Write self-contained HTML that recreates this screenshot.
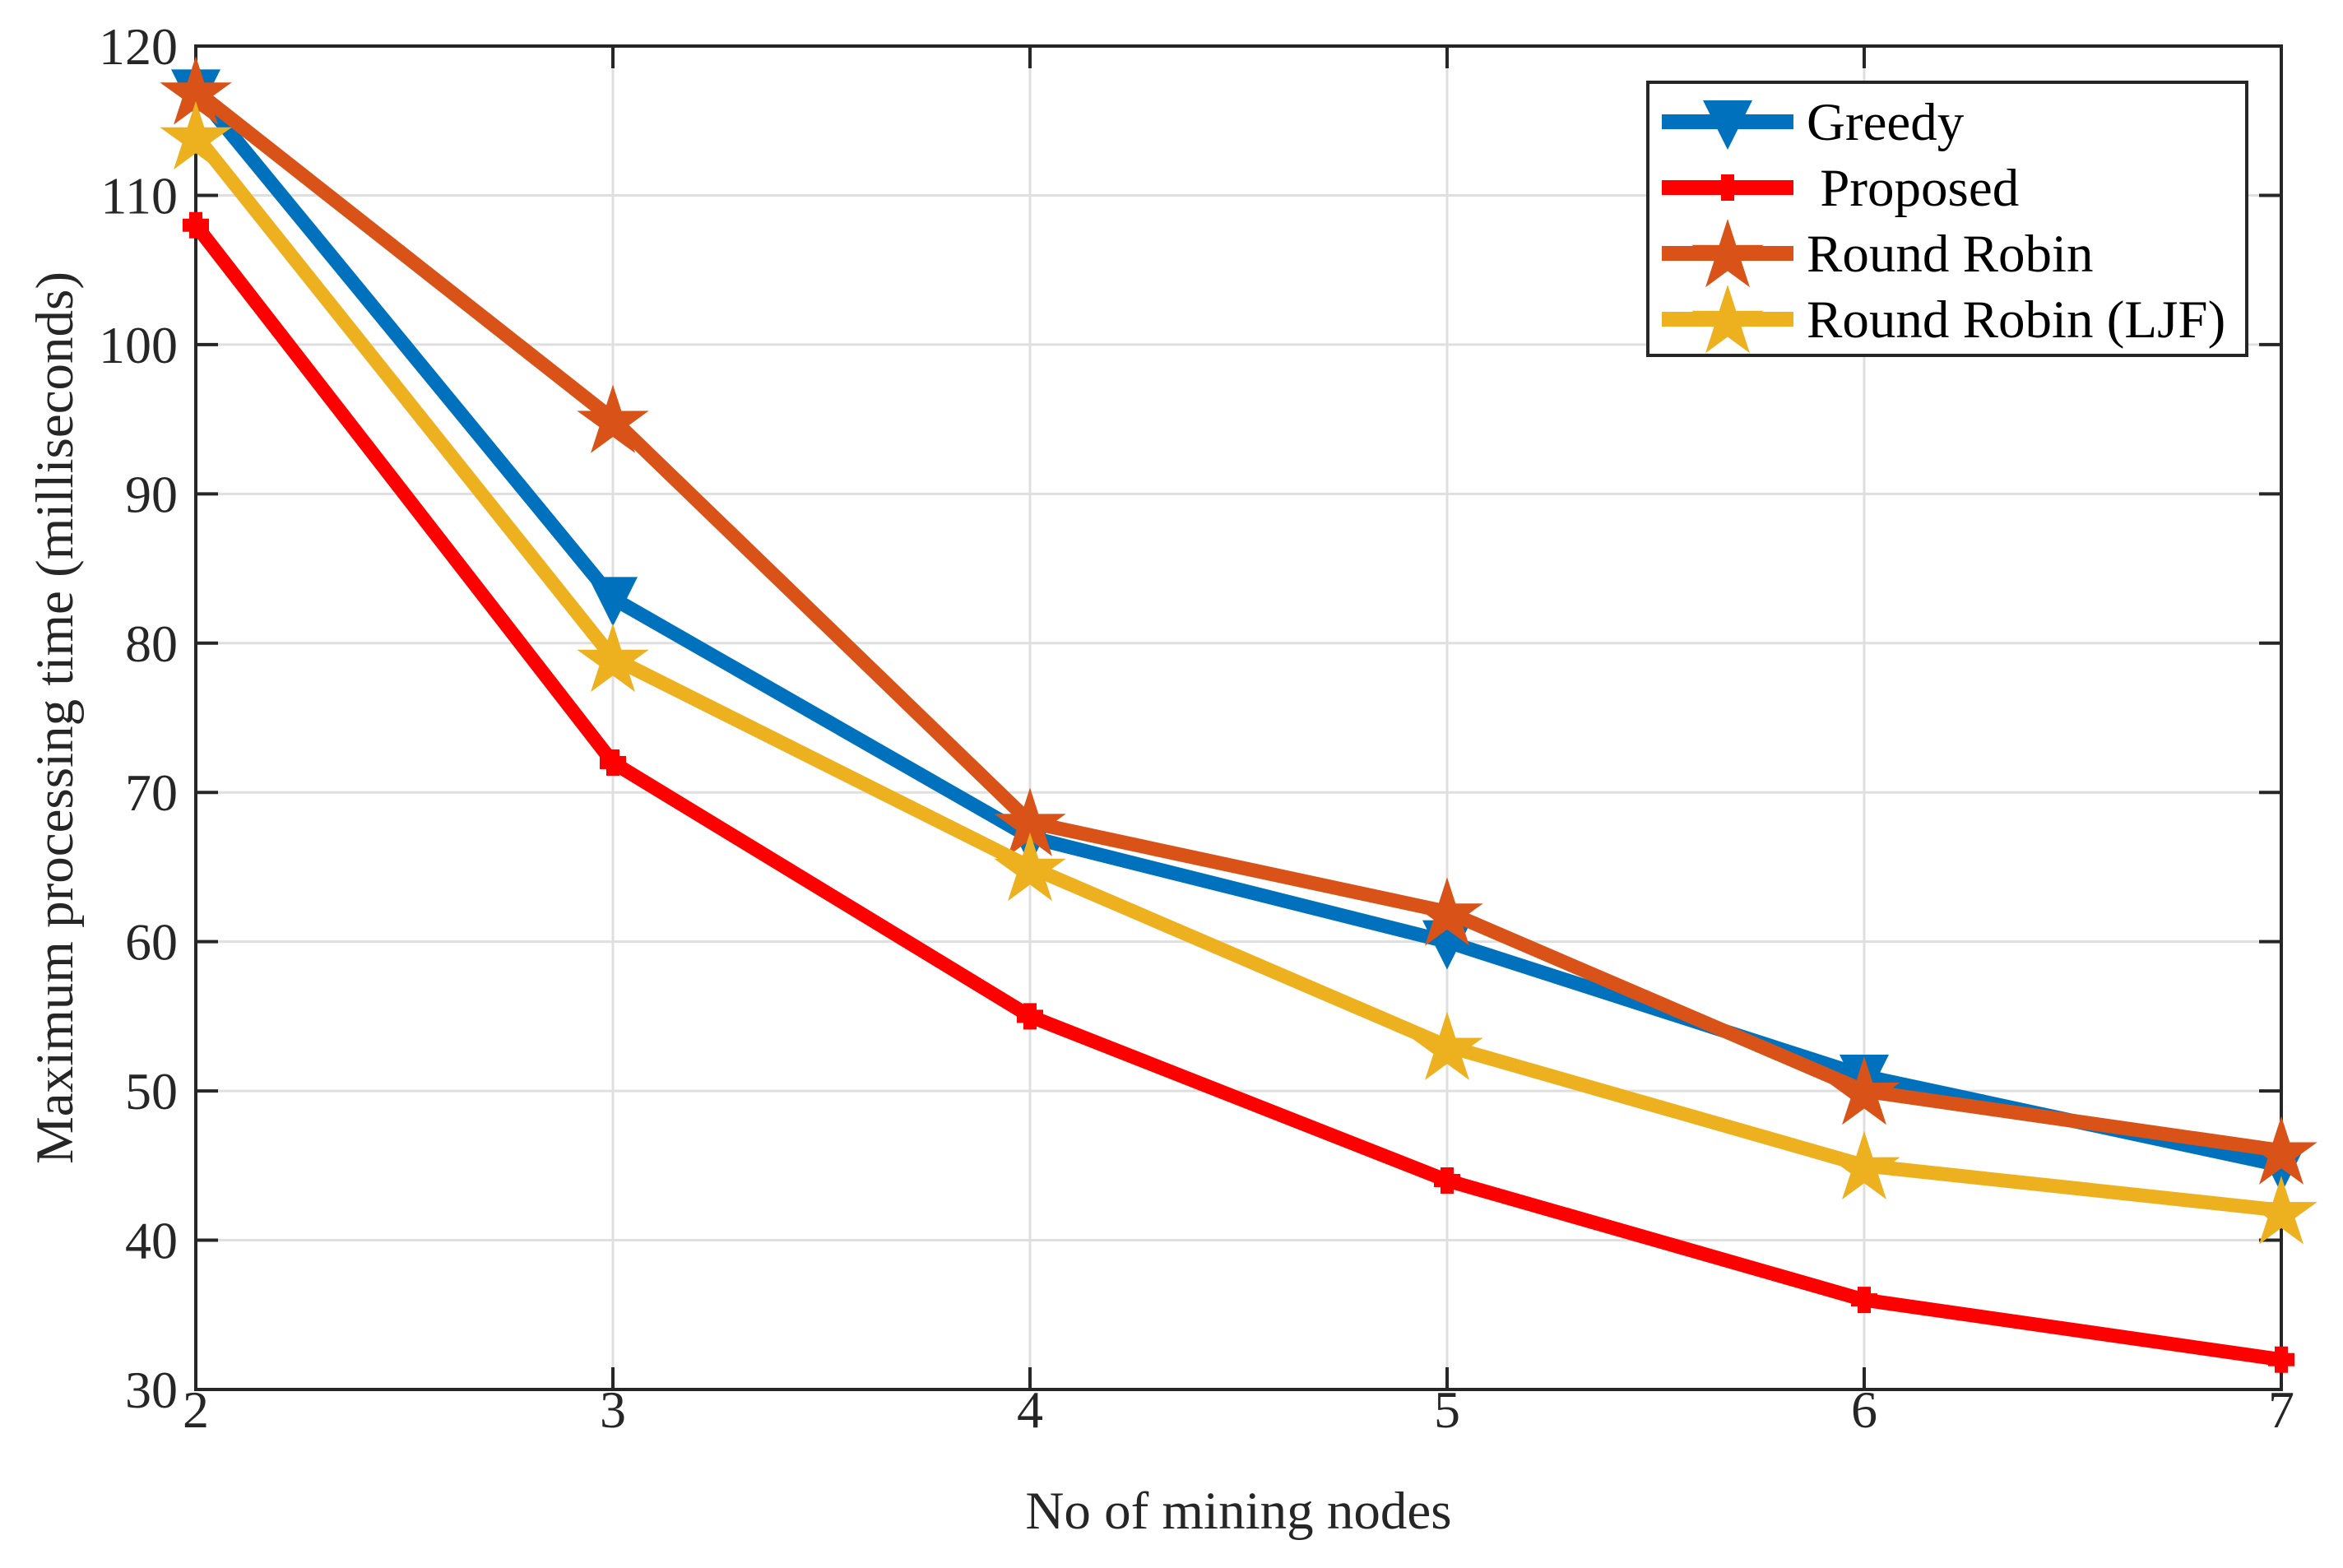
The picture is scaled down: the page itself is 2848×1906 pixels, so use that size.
<!DOCTYPE html>
<html><head><meta charset="utf-8"><style>
html,body{margin:0;padding:0;background:#fff;}
svg{display:block;font-family:"Liberation Serif",serif;}
</style></head><body>
<svg id="chart" width="2848" height="1906"></svg>
<script>
const categories=[2,3,4,5,6,7];
const greedy=[117,83,67,60,51,45];
const proposed=[108,72,55,44,36,32];
const roundRobin=[117,95,68,62,50,46];
const roundRobinLJF=[114,79,65,53,45,42];
const yTicks=[30,40,50,60,70,80,90,100,110,120];
const xTicks=[2,3,4,5,6,7];
const seriesNames=["Greedy"," Proposed","Round Robin","Round Robin (LJF)"];

const NS="http://www.w3.org/2000/svg";
const svg=document.getElementById('chart');
const L=238,R=2773,T=56,B=1689;
const xs=v=>L+(v-2)/(7-2)*(R-L);
const ys=v=>B-(v-30)/(120-30)*(B-T);
function mk(tag,attrs,parent){const e=document.createElementNS(NS,tag);for(const k in attrs)e.setAttribute(k,attrs[k]);(parent||svg).appendChild(e);return e;}

const grid=mk('g',{});


xTicks.forEach(t=>{const l=mk('line',{x1:xs(t),x2:xs(t),y1:T,y2:B,stroke:'#dfdfdf','stroke-width':3},grid);

});
yTicks.forEach(t=>{const l=mk('line',{x1:L,x2:R,y1:ys(t),y2:ys(t),stroke:'#dfdfdf','stroke-width':3},grid);

});

const axes=mk('g',{});


mk('rect',{x:L,y:T,width:R-L,height:B-T,fill:'none',stroke:'#262626','stroke-width':4},axes);
xTicks.forEach(t=>{
mk('line',{x1:xs(t),x2:xs(t),y1:B,y2:B-27,stroke:'#262626','stroke-width':4},axes);
mk('line',{x1:xs(t),x2:xs(t),y1:T,y2:T+27,stroke:'#262626','stroke-width':4},axes);
const tx=mk('text',{x:xs(t),y:1735,'font-size':64,'text-anchor':'middle',fill:'#262626'},axes);tx.textContent=t;

});
yTicks.forEach(t=>{
mk('line',{x1:L,x2:L+27,y1:ys(t),y2:ys(t),stroke:'#262626','stroke-width':4},axes);
mk('line',{x1:R,x2:R-27,y1:ys(t),y2:ys(t),stroke:'#262626','stroke-width':4},axes);
const tx=mk('text',{x:216,y:ys(t)+22,'font-size':64,'text-anchor':'end',fill:'#262626'},axes);tx.textContent=t;

});
const xl=mk('text',{x:(L+R)/2,y:1858,'font-size':65,'text-anchor':'middle',fill:'#262626'});xl.textContent='No of mining nodes';


const yl=mk('text',{x:0,y:0,'font-size':65,'text-anchor':'middle',fill:'#262626',transform:`translate(88,${(T+B)/2}) rotate(-90)`});yl.textContent='Maximum processing time (milliseconds)';



function starPts(cx,cy,r){const p=[];for(let i=0;i<10;i++){const a=-Math.PI/2+i*Math.PI/5;const rr=i%2?r*0.38:r;p.push((cx+rr*Math.cos(a)).toFixed(1)+','+(cy+rr*Math.sin(a)).toFixed(1));}return p.join(' ');}
function marker(g,type,cx,cy,color){
if(type==='tri'){mk('polygon',{points:`${cx-30},${cy-26} ${cx+30},${cy-26} ${cx},${cy+34}`,fill:color},g);}
else if(type==='plus'){mk('rect',{x:cx-16,y:cy-8,width:32,height:16,fill:color},g);mk('rect',{x:cx-8,y:cy-16,width:16,height:32,fill:color},g);}
else{mk('polygon',{points:starPts(cx,cy+4,46),fill:color},g);}
}
const series=[[greedy,'#0072bd','tri','series-greedy'],[proposed,'#ff0000','plus','series-proposed'],[roundRobin,'#d95319','star','series-round-robin'],[roundRobinLJF,'#edb120','star','series-round-robin-ljf']];
series.forEach(([vals,c,m,n])=>{
const g=mk('g',{});


mk('polyline',{points:vals.map((v,i)=>xs(categories[i])+','+ys(v)).join(' '),fill:'none',stroke:c,'stroke-width':17,'stroke-linejoin':'miter'},g);
vals.forEach((v,i)=>marker(g,m,xs(categories[i]),ys(v),c));});

const lg=mk('g',{});


mk('rect',{x:2003,y:100,width:728,height:332,fill:'#fff',stroke:'#262626','stroke-width':4},lg);
series.forEach(([vals,c,m],i)=>{
const cy=148+i*80;
const e=mk('g',{},lg);


mk('line',{x1:2020,x2:2180,y1:cy,y2:cy,stroke:c,'stroke-width':18},e);
marker(e,m,2100,cy,c);
const t=mk('text',{x:2196,y:cy+22,'font-size':65,fill:'#000'},e);t.textContent=seriesNames[i];t.style.whiteSpace='pre';});
</script>
</body></html>
